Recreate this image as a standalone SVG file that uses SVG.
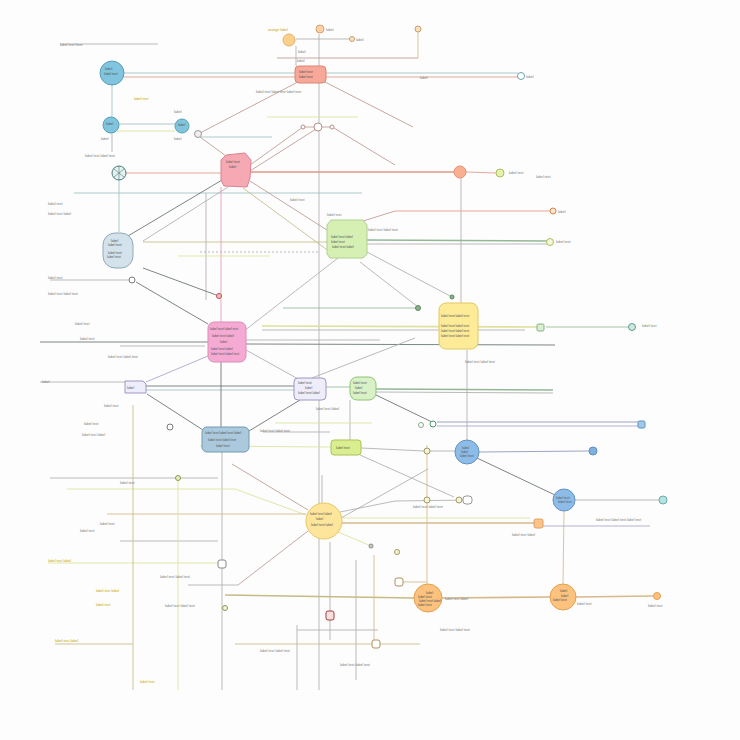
<svg xmlns="http://www.w3.org/2000/svg" width="740" height="740" viewBox="0 0 740 740">
<style>
.t{font-family:"Liberation Sans",Arial,sans-serif;font-size:3.6px;fill:#7a7a7a}
.ti{font-family:"Liberation Sans",Arial,sans-serif;font-size:3.4px;fill:#555}
.ty{fill:#c8a400}
.tg{fill:#6a8a6a}
.c line,.c path,.c polyline{fill:none;stroke-width:0.85}
.br{stroke:#bb9a90}.te{stroke:#9cc2c2}.rd{stroke:#df9888}.gy{stroke:#adadad}.dk{stroke:#66706d}
.ol{stroke:#c4bb85}.yg{stroke:#dde19a}.tn{stroke:#d6b98c}.gn{stroke:#92b896}.bl{stroke:#8896bb}.pk{stroke:#e698b2}.lv{stroke:#a6a4c9}
.w2{stroke-width:1.6!important}
</style>
<rect width="740" height="740" fill="#fdfdfd"/>
<g id="connectors" class="c">
<line class="gy" x1="60" y1="44" x2="158" y2="44"/>
<line class="gy" x1="296" y1="39" x2="355" y2="39"/>
<line class="tn" x1="418" y1="32" x2="418" y2="58"/>
<line class="br" x1="277" y1="58" x2="418" y2="58"/>
<line class="gy" x1="296" y1="46" x2="296" y2="66"/>
<line class="te" x1="124" y1="73" x2="518" y2="73"/>
<line class="rd" x1="124" y1="77" x2="518" y2="77"/>
<line class="br" x1="296" y1="83" x2="200" y2="133"/>
<line class="br" x1="325" y1="82" x2="413" y2="127"/>
<line class="gy" x1="319" y1="34" x2="319" y2="690"/>
<line class="yg" x1="267" y1="117" x2="358" y2="117"/>
<line class="te" x1="119" y1="124" x2="175" y2="124"/>
<line class="yg" x1="117" y1="131" x2="175" y2="131"/>
<line class="te" x1="112" y1="85" x2="112" y2="117"/>
<line class="gy" x1="112" y1="133" x2="112" y2="152"/>
<line class="te" x1="201" y1="137" x2="272" y2="137"/>
<line class="br" x1="200" y1="137" x2="226" y2="156"/>
<line class="br" x1="250" y1="165" x2="303" y2="127"/>
<line class="br" x1="250" y1="171" x2="316" y2="129"/>
<line class="br" x1="305" y1="127" x2="332" y2="127"/>
<line class="br" x1="334" y1="128" x2="395" y2="165"/>
<line class="rd" x1="126" y1="173" x2="221" y2="173"/>
<line class="rd w2" x1="236" y1="172" x2="454" y2="172"/>
<line class="rd" x1="466" y1="172" x2="496" y2="173"/>
<line class="gy" x1="461" y1="178" x2="461" y2="303"/>
<line class="te" x1="74" y1="193" x2="362" y2="193"/>
<line class="dk" x1="222" y1="180" x2="128" y2="236"/>
<line class="te" x1="119" y1="180" x2="119" y2="232"/>
<line class="pk" x1="221" y1="187" x2="221" y2="322"/>
<line class="gy" x1="228" y1="187" x2="143" y2="241"/>
<line class="br" x1="250" y1="181" x2="330" y2="232"/>
<line class="ol" x1="243" y1="188" x2="330" y2="252"/>
<line class="gy" x1="206" y1="193" x2="206" y2="300"/>
<line class="ol" x1="143" y1="242" x2="330" y2="242"/>
<line class="yg" x1="178" y1="256" x2="270" y2="256"/>
<line class="gy" x1="200" y1="252" x2="318" y2="252" stroke-dasharray="2 2"/>
<line class="dk" x1="143" y1="268" x2="219" y2="296"/>
<line class="gy" x1="50" y1="280" x2="129" y2="280"/>
<line class="dk" x1="136" y1="282" x2="208" y2="324"/>
<line class="gy" x1="338" y1="258" x2="244" y2="331"/>
<line class="gy" x1="367" y1="252" x2="452" y2="297"/>
<line class="gy" x1="360" y1="262" x2="418" y2="307"/>
<line class="br" x1="360" y1="222" x2="395" y2="211"/>
<line class="rd" x1="395" y1="211" x2="550" y2="211"/>
<line class="gn w2" x1="367" y1="240" x2="547" y2="241"/>
<line class="gy" x1="367" y1="244" x2="547" y2="244"/>
<line class="gn" x1="283" y1="308" x2="418" y2="308"/>
<line class="yg w2" x1="262" y1="326" x2="537" y2="327"/>
<line class="gn" x1="546" y1="327" x2="628" y2="327"/>
<line class="gy" x1="262" y1="330" x2="525" y2="330"/>
<line class="dk" x1="246" y1="344" x2="555" y2="345"/>
<line class="gy" x1="246" y1="340" x2="380" y2="340"/>
<line class="dk" x1="40" y1="342" x2="208" y2="342"/>
<line class="gy" x1="120" y1="346" x2="205" y2="346"/>
<line class="gy" x1="246" y1="350" x2="300" y2="380"/>
<line class="gy" x1="312" y1="378" x2="415" y2="338"/>
<line class="lv" x1="208" y1="356" x2="146" y2="382"/>
<line class="gy" x1="40" y1="382" x2="125" y2="382"/>
<line class="dk" x1="146" y1="386" x2="294" y2="386"/>
<line class="te" x1="146" y1="390" x2="294" y2="390"/>
<line class="gn" x1="326" y1="387" x2="350" y2="387"/>
<line class="gn w2" x1="376" y1="389" x2="553" y2="390"/>
<line class="gy" x1="376" y1="392" x2="553" y2="393"/>
<line class="dk" x1="221" y1="362" x2="221" y2="427"/>
<line class="dk" x1="300" y1="400" x2="249" y2="431"/>
<line class="dk" x1="147" y1="394" x2="203" y2="430"/>
<line class="dk" x1="376" y1="395" x2="432" y2="422"/>
<line class="bl" x1="437" y1="422" x2="638" y2="422"/>
<line class="lv" x1="437" y1="426" x2="638" y2="426"/>
<line class="gy" x1="350" y1="400" x2="350" y2="440"/>
<line class="yg" x1="275" y1="423" x2="372" y2="423"/>
<line class="gy" x1="263" y1="432" x2="330" y2="432"/>
<line class="yg" x1="200" y1="446" x2="331" y2="447"/>
<line class="gy" x1="361" y1="448" x2="424" y2="451"/>
<line class="gy" x1="430" y1="451" x2="455" y2="451"/>
<line class="bl" x1="479" y1="452" x2="589" y2="451"/>
<line class="dk" x1="477" y1="458" x2="555" y2="495"/>
<line class="gy" x1="575" y1="500" x2="659" y2="500"/>
<line class="tn" x1="564" y1="511" x2="563" y2="584"/>
<line class="gy" x1="467" y1="350" x2="467" y2="440"/>
<line class="tn" x1="427" y1="445" x2="427" y2="584"/>
<line class="gy" x1="222" y1="452" x2="222" y2="690"/>
<line class="br" x1="232" y1="464" x2="308" y2="510"/>
<line class="yg" x1="67" y1="489" x2="235" y2="489"/>
<line class="yg" x1="235" y1="489" x2="306" y2="515"/>
<line class="gy" x1="50" y1="478" x2="218" y2="478"/>
<line class="tn" x1="107" y1="514" x2="306" y2="514"/>
<line class="gy" x1="120" y1="541" x2="218" y2="541"/>
<line class="gy" x1="340" y1="512" x2="395" y2="501"/>
<line class="gy" x1="395" y1="501" x2="470" y2="500"/>
<line class="yg" x1="342" y1="518" x2="530" y2="518"/>
<line class="tn w2" x1="342" y1="523" x2="534" y2="523"/>
<line class="lv" x1="543" y1="526" x2="650" y2="526"/>
<line class="yg" x1="338" y1="532" x2="371" y2="546"/>
<line class="gy" x1="341" y1="518" x2="428" y2="469"/>
<line class="gy" x1="360" y1="455" x2="454" y2="497"/>
<line class="gy" x1="322" y1="475" x2="322" y2="503"/>
<line class="br" x1="308" y1="531" x2="238" y2="585"/>
<line class="gy" x1="238" y1="585" x2="188" y2="585"/>
<line class="gy" x1="330" y1="542" x2="330" y2="640"/>
<line class="gy" x1="356" y1="560" x2="356" y2="680"/>
<line class="gy" x1="297" y1="625" x2="297" y2="690"/>
<line class="yg" x1="48" y1="563" x2="218" y2="563"/>
<line class="ol w2" x1="225" y1="595" x2="414" y2="598"/>
<line class="tn w2" x1="442" y1="598" x2="550" y2="597"/>
<line class="tn w2" x1="576" y1="597" x2="653" y2="596"/>
<line class="ol" x1="235" y1="644" x2="420" y2="644"/>
<line class="ol" x1="55" y1="644" x2="133" y2="644"/>
<line class="ol" x1="133" y1="405" x2="133" y2="690"/>
<line class="yg" x1="178" y1="478" x2="178" y2="690"/>
<line class="tn" x1="403" y1="582" x2="427" y2="582"/>
<line class="tn" x1="374" y1="555" x2="374" y2="640"/>
<line class="gy" x1="297" y1="630" x2="378" y2="630"/>
</g>
<g id="n1"><circle cx="112" cy="73" r="12" fill="#80c4de" stroke="#5aa0b8"/><text class="ti" x="105" y="70">label</text><text class="ti" x="104" y="75">label text</text></g>
<g id="n2"><circle cx="111" cy="125" r="8" fill="#80c4de" stroke="#5aa0b8"/><text class="ti" x="106" y="125">label</text></g>
<g id="n3"><circle cx="182" cy="126" r="7" fill="#80c4de" stroke="#5aa0b8"/><text class="ti" x="178" y="126">label</text></g>
<g id="n4"><circle cx="198" cy="134" r="3.5" fill="#eee" stroke="#999"/></g>
<g id="n5"><circle cx="119" cy="173" r="7" fill="#e6f2f0" stroke="#4a7a7a"/><path d="M114,169 L124,177 M114,177 L124,169 M119,166 L119,180" stroke="#4a7a7a" stroke-width="0.6"/></g>
<g id="n6"><rect x="295" y="66" width="31" height="17" rx="4" fill="#f8a898" stroke="#d88472"/><text class="ti" x="299" y="73">label text</text><text class="ti" x="299" y="78">label text</text></g>
<g id="n7"><circle cx="289" cy="40" r="6" fill="#fcd08b" stroke="#e5b06a"/></g>
<g id="n8"><circle cx="320" cy="29" r="4" fill="#fbd3a6" stroke="#d9a070"/></g>
<g id="n9"><circle cx="352" cy="39" r="2.5" fill="#fbe0c0" stroke="#c9a070"/></g>
<g id="n10"><circle cx="418" cy="29" r="3" fill="#fbe0c0" stroke="#c9a070"/></g>
<g id="n11"><circle cx="521" cy="76" r="3.5" fill="#fff" stroke="#6aa0b0"/></g>
<g id="n12"><path d="M226,155 L245,153 L251,160 L250,178 L247,187 L224,186 L221,180 L221,160 Z" fill="#f6a9b2" stroke="#dc8290"/><text class="ti" x="226" y="163">label text</text><text class="ti" x="229" y="168">label</text></g>
<g id="n13"><circle cx="303" cy="127" r="2" fill="#fff" stroke="#b58f84"/><circle cx="318" cy="127" r="4" fill="#fff" stroke="#b58f84"/><circle cx="332" cy="127" r="2" fill="#fff" stroke="#b58f84"/></g>
<g id="n14"><circle cx="460" cy="172" r="6" fill="#f8b090" stroke="#e09070"/></g>
<g id="n15"><circle cx="500" cy="173" r="4" fill="#e8f0b0" stroke="#a9c060"/></g>
<g id="n16"><rect x="103" y="233" width="30" height="35" rx="12" fill="#d3e2eb" stroke="#8fa9ba"/><text class="ti" x="111" y="242">label</text><text class="ti" x="108" y="246">label text</text><text class="ti" x="108" y="254">label text</text><text class="ti" x="107" y="258">label text</text></g>
<g id="n17"><path d="M331,220 L363,220 L367,225 L367,254 L363,258 L330,258 L327,254 L327,225 Z" fill="#d6f0b4" stroke="#add18e"/><text class="ti" x="331" y="238">label text label</text><text class="ti" x="331" y="243">label text</text><text class="ti" x="332" y="248">label text label</text></g>
<g id="n18"><circle cx="132" cy="280" r="3" fill="#fff" stroke="#777"/></g>
<g id="n19"><circle cx="219" cy="296" r="2.5" fill="#f2c0c0" stroke="#c05050"/></g>
<g id="n20"><circle cx="553" cy="211" r="3" fill="#fbe6d0" stroke="#d9844a"/></g>
<g id="n21"><circle cx="550" cy="242" r="3.5" fill="#f6f8d8" stroke="#a9c060"/></g>
<g id="n22"><rect x="439" y="303" width="39" height="46" rx="7" fill="#fdeb98" stroke="#e0c860"/><text class="ti" x="441" y="317">label text label text</text><text class="ti" x="441" y="327">label text label text</text><text class="ti" x="441" y="332">label text label text</text><text class="ti" x="441" y="337">label text label text</text></g>
<g id="n23"><rect x="208" y="322" width="38" height="40" rx="6" fill="#f4aad3" stroke="#da8cb8"/><text class="ti" x="210" y="330">label text label text</text><text class="ti" x="212" y="337">label text label</text><text class="ti" x="220" y="343">label</text><text class="ti" x="211" y="350">label text label</text><text class="ti" x="211" y="355">label text label text</text></g>
<g id="n24"><rect x="537" y="324" width="7" height="7" rx="1.5" fill="#d8f0d0" stroke="#80b080"/></g>
<g id="n25"><circle cx="632" cy="327" r="3.5" fill="#cde8e0" stroke="#5a9a8a"/></g>
<g id="n26"><path d="M125,381 L143,381 L146,384 L146,393 L125,393 Z" fill="#efedf9" stroke="#9a98c0"/><text class="ti" x="127" y="389">label</text></g>
<g id="n27"><rect x="294" y="378" width="32" height="22" rx="4" fill="#efedf9" stroke="#9a98c0"/><text class="ti" x="298" y="384">label text</text><text class="ti" x="305" y="389">label</text><text class="ti" x="298" y="394">label text label</text></g>
<g id="n28"><rect x="350" y="377" width="26" height="23" rx="7" fill="#d9f1c6" stroke="#90c276"/><text class="ti" x="353" y="384">label text</text><text class="ti" x="355" y="389">label</text><text class="ti" x="353" y="394">label text</text></g>
<g id="n29"><rect x="202" y="427" width="47" height="25" rx="5" fill="#abc9dd" stroke="#7099b3"/><text class="ti" x="205" y="434">label text label text label</text><text class="ti" x="208" y="441">label text label text</text><text class="ti" x="216" y="447">label text</text></g>
<g id="n30"><rect x="331" y="440" width="30" height="15" rx="3" fill="#daee90" stroke="#aac254"/><text class="ti" x="336" y="449">label text</text></g>
<g id="n31"><circle cx="467" cy="452" r="12" fill="#8ebce8" stroke="#6092c2"/><text class="ti" x="462" y="449">label</text><text class="ti" x="461" y="453">label</text><text class="ti" x="460" y="457">label text</text></g>
<g id="n32"><circle cx="564" cy="500" r="11" fill="#8ebce8" stroke="#6092c2"/><text class="ti" x="556" y="499">label text</text><text class="ti" x="558" y="503">label text</text></g>
<g id="n33"><circle cx="593" cy="451" r="4" fill="#7fb0e0" stroke="#5d8fc0"/></g>
<g id="n34"><rect x="638" y="421" width="7" height="7" rx="1.5" fill="#a0c8e8" stroke="#5d8fc0"/></g>
<g id="n35"><circle cx="663" cy="500" r="4" fill="#b7e4e0" stroke="#6aaab0"/></g>
<g id="n36"><circle cx="324" cy="521" r="18" fill="#fde59c" stroke="#e8c860"/><text class="ti" x="310" y="515">label text label</text><text class="ti" x="316" y="520">label</text><text class="ti" x="311" y="526">label text label</text></g>
<g id="n37"><circle cx="428" cy="598" r="14" fill="#fcc27e" stroke="#e3a050"/><text class="ti" x="426" y="594">label</text><text class="ti" x="418" y="598">label text</text><text class="ti" x="419" y="602">label text label</text><text class="ti" x="418" y="606">label text</text></g>
<g id="n38"><circle cx="563" cy="597" r="13" fill="#fcc27e" stroke="#e3a050"/><text class="ti" x="560" y="592">label</text><text class="ti" x="561" y="597">label</text><text class="ti" x="553" y="601">label text</text></g>
<g id="n39"><circle cx="657" cy="596" r="3.5" fill="#fcc07e" stroke="#e3a050"/></g>
<g id="n40"><rect x="534" y="519" width="9" height="9" rx="2" fill="#fcc48a" stroke="#e0a060"/></g>
<g id="n41"><rect x="218" y="560" width="8" height="8" rx="2" fill="#fff" stroke="#888"/></g>
<g id="n42"><rect x="395" y="578" width="8" height="8" rx="2" fill="#fff" stroke="#b09060"/></g>
<g id="n43"><rect x="372" y="640" width="8" height="8" rx="2" fill="#fff" stroke="#b09060"/></g>
<g id="n44"><rect x="326" y="611" width="8" height="9" rx="2" fill="#f6e0e0" stroke="#a04040"/></g>
<g id="n45"><circle cx="433" cy="424" r="3" fill="#fff" stroke="#4a9a6a"/><circle cx="421" cy="425" r="2.5" fill="#fff" stroke="#8a8"/></g>
<g id="n46"><circle cx="427" cy="451" r="3" fill="#f6f4d8" stroke="#a09a60"/><circle cx="427" cy="500" r="3" fill="#f6f4d8" stroke="#a09a60"/><circle cx="459" cy="500" r="3" fill="#f6f4d8" stroke="#a09a60"/><rect x="463" y="496" width="9" height="8" rx="3" fill="#fff" stroke="#999"/></g>
<g id="n47"><circle cx="178" cy="478" r="2.5" fill="#e8f0c0" stroke="#8a9a50"/><circle cx="397" cy="552" r="2.5" fill="#f6f4d8" stroke="#a09a60"/><circle cx="371" cy="546" r="2" fill="#ccc" stroke="#888"/><circle cx="418" cy="308" r="2.5" fill="#8cb08c" stroke="#5a8a5a"/><circle cx="452" cy="297" r="2" fill="#8cb08c" stroke="#5a8a5a"/><circle cx="170" cy="427" r="3" fill="#fff" stroke="#777"/><circle cx="225" cy="608" r="2.5" fill="#f6f4d8" stroke="#8a9a50"/></g>
<g id="labels">
<text class="t" x="60" y="46">label text here</text>
<text class="t ty" x="268" y="31">orange label</text>
<text class="t" x="326" y="31">label</text>
<text class="t" x="356" y="41">label</text>
<text class="t" x="298" y="53">label</text>
<text class="t" x="297" y="62">label</text>
<text class="t" x="420" y="79">label</text>
<text class="t" x="526" y="78">label</text>
<text class="t" x="256" y="93">label text label text label text</text>
<text class="t ty" x="134" y="100">label text</text>
<text class="t" x="174" y="113">label</text>
<text class="t" x="101" y="140">label</text>
<text class="t" x="174" y="140">label</text>
<text class="t" x="85" y="157">label text label text</text>
<text class="t" x="509" y="174">label text</text>
<text class="t" x="536" y="178">label text</text>
<text class="t" x="48" y="205">label text</text>
<text class="t" x="48" y="215">label text label</text>
<text class="t" x="290" y="201">label text</text>
<text class="t" x="327" y="216">label text</text>
<text class="t" x="368" y="231">label text label text</text>
<text class="t" x="558" y="213">label</text>
<text class="t" x="556" y="243">label text</text>
<text class="t" x="48" y="279">label text</text>
<text class="t" x="48" y="295">label text label text</text>
<text class="t" x="75" y="325">label text</text>
<text class="t" x="80" y="340">label text</text>
<text class="t" x="108" y="358">label text label text</text>
<text class="t" x="465" y="363">label text label text</text>
<text class="t tg" x="642" y="327">label text</text>
<text class="t" x="42" y="383">label</text>
<text class="t" x="104" y="407">label text</text>
<text class="t" x="84" y="425">label text</text>
<text class="t" x="82" y="436">label text label</text>
<text class="t" x="316" y="410">label text label</text>
<text class="t" x="260" y="432">label text label text</text>
<text class="t" x="596" y="521">label text label text label text</text>
<text class="t" x="512" y="536">label text label</text>
<text class="t" x="120" y="484">label text</text>
<text class="t" x="100" y="525">label text</text>
<text class="t" x="80" y="532">label text</text>
<text class="t ty" x="48" y="562">label text label</text>
<text class="t ty" x="96" y="592">label text label</text>
<text class="t ty" x="96" y="606">label text</text>
<text class="t" x="160" y="578">label text label text</text>
<text class="t" x="165" y="607">label text label text</text>
<text class="t" x="440" y="631">label text label text</text>
<text class="t ty" x="55" y="642">label text label</text>
<text class="t" x="260" y="652">label text label text</text>
<text class="t" x="340" y="666">label text label text</text>
<text class="t ty" x="140" y="683">label text</text>
<text class="t" x="445" y="600">label text label</text>
<text class="t" x="577" y="605">label text</text>
<text class="t" x="648" y="607">label text</text>
<text class="t" x="413" y="508">label text label text</text>
</g>
</svg>
